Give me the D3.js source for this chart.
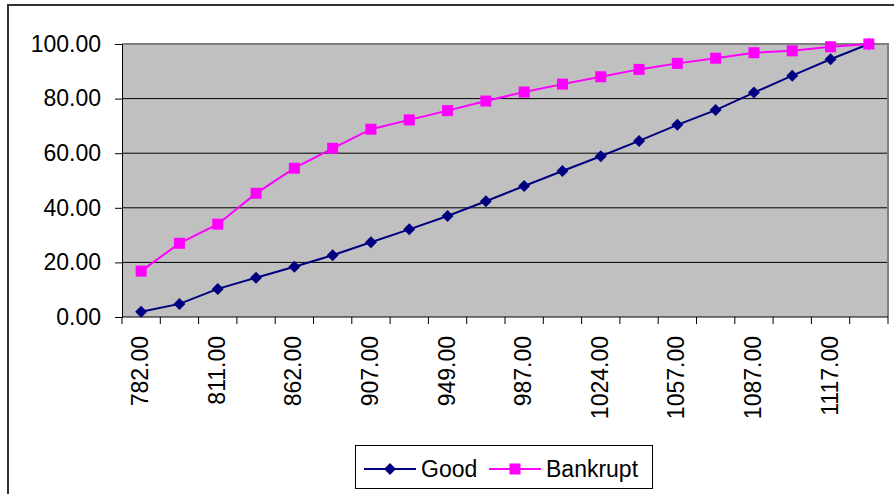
<!DOCTYPE html>
<html>
<head>
<meta charset="utf-8">
<script src="https://cdn.jsdelivr.net/npm/d3@7"></script>
<style>
  html, body { margin: 0; padding: 0; background: #fff; }
  svg { display: block; }
  text { font-family: "Liberation Sans", Arial, sans-serif; fill: #000; }
</style>
</head>
<body>
<svg id="chart" width="894" height="494"></svg>
<script>
// Score bands (only every other band carries a printed label on the axis)
const bandLabels = ["782.00", "", "811.00", "", "862.00", "", "907.00", "", "949.00", "",
                    "987.00", "", "1024.00", "", "1057.00", "", "1087.00", "", "1117.00", ""];

// Cumulative percentage per band
const goodValues = [1.9, 4.8, 10.3, 14.4, 18.4, 22.6, 27.4, 32.1, 37.0, 42.4,
                    48.0, 53.5, 58.9, 64.5, 70.4, 75.8, 82.2, 88.4, 94.4, 100.0];
const bankruptValues = [16.8, 27.0, 34.0, 45.3, 54.5, 61.8, 68.8, 72.2, 75.6, 79.1,
                        82.4, 85.3, 88.0, 90.7, 92.9, 94.8, 96.8, 97.5, 99.0, 100.0];

const yTicks = [0, 20, 40, 60, 80, 100];

const svg = d3.select("#chart");
const plot = { left: 122, top: 44, right: 888, bottom: 317 };
const fontSize = 23;

// Chart area frame
svg.append("rect")
  .attr("x", 8).attr("y", 5)
  .attr("width", 900).attr("height", 500)
  .attr("fill", "#fff")
  .attr("stroke", "#333").attr("stroke-width", 2);

const x = d3.scaleBand()
  .domain(d3.range(bandLabels.length))
  .range([plot.left, plot.right])
  .paddingInner(0).paddingOuter(0);

const y = d3.scaleLinear().domain([0, 100]).range([plot.bottom, plot.top]);

// Plot background
svg.append("rect")
  .attr("x", plot.left).attr("y", plot.top)
  .attr("width", plot.right - plot.left).attr("height", plot.bottom - plot.top)
  .attr("fill", "#c0c0c0");

// Horizontal gridlines
svg.append("g")
  .selectAll("line")
  .data(yTicks.filter(d => d > 0))
  .join("line")
  .attr("x1", plot.left).attr("x2", plot.right)
  .attr("y1", d => y(d)).attr("y2", d => y(d))
  .attr("stroke", "#000").attr("stroke-width", 1);

// Plot border (right and top in grey)
svg.append("path")
  .attr("d", `M${plot.left},${plot.top}H${plot.right}V${plot.bottom}`)
  .attr("fill", "none").attr("stroke", "#808080").attr("stroke-width", 2);

// Y axis
const yAxis = svg.append("g")
  .attr("transform", `translate(${plot.left},0)`)
  .call(d3.axisLeft(y).tickValues(yTicks).tickFormat(d3.format(".2f")).tickSizeOuter(0).tickSize(7).tickPadding(14));
yAxis.select(".domain").attr("stroke", "#000").attr("stroke-width", 1);
yAxis.selectAll(".tick line").attr("stroke", "#000");
yAxis.selectAll("text").attr("font-size", fontSize).attr("font-family", "Liberation Sans, Arial, sans-serif").attr("fill", "#000");

// X axis: tick marks at band boundaries
const boundaries = d3.range(bandLabels.length + 1).map(i => i < bandLabels.length ? x(i) : plot.right);
const xAxisG = svg.append("g");
xAxisG.append("line")
  .attr("x1", plot.left).attr("x2", plot.right)
  .attr("y1", plot.bottom).attr("y2", plot.bottom)
  .attr("stroke", "#000").attr("stroke-width", 1);
xAxisG.selectAll("line.tick")
  .data(boundaries)
  .join("line")
  .attr("class", "tick")
  .attr("x1", d => d).attr("x2", d => d)
  .attr("y1", plot.bottom).attr("y2", plot.bottom + 7)
  .attr("stroke", "#000").attr("stroke-width", 1);

// Rotated category labels
xAxisG.selectAll("text")
  .data(bandLabels.map((label, i) => ({ label, i })).filter(d => d.label))
  .join("text")
  .attr("transform", d => `translate(${x(d.i) + x.bandwidth() / 2 + 7},${plot.bottom + 19}) rotate(-90)`)
  .attr("text-anchor", "end")
  .attr("font-size", fontSize)
  .text(d => d.label);

// Series
const cx = i => x(i) + x.bandwidth() / 2;
const line = d3.line().x((d, i) => cx(i)).y(d => y(d));

// Diamond = square turned 45 degrees
const series = [
  { name: "Good", values: goodValues, color: "#000080", symbol: d3.symbolSquare, size: 72, rotate: 45 },
  { name: "Bankrupt", values: bankruptValues, color: "#ff00ff", symbol: d3.symbolSquare, size: 121, rotate: 0 }
];

series.forEach(s => {
  const g = svg.append("g");
  g.append("path")
    .datum(s.values)
    .attr("d", line)
    .attr("fill", "none")
    .attr("stroke", s.color)
    .attr("stroke-width", 2);
  g.selectAll("path.marker")
    .data(s.values)
    .join("path")
    .attr("class", "marker")
    .attr("transform", (d, i) => `translate(${cx(i)},${y(d)}) rotate(${s.rotate})`)
    .attr("d", d3.symbol().type(s.symbol).size(s.size))
    .attr("fill", s.color);
});

// Legend
const legend = svg.append("g");
legend.append("rect")
  .attr("x", 355.5).attr("y", 445.5)
  .attr("width", 297).attr("height", 43)
  .attr("fill", "#fff").attr("stroke", "#000").attr("stroke-width", 1);

const legendItems = [
  { s: series[0], x0: 364, x1: 416, tx: 421 },
  { s: series[1], x0: 489, x1: 541, tx: 546 }
];
legendItems.forEach(item => {
  const ly = 469;
  legend.append("line")
    .attr("x1", item.x0).attr("x2", item.x1)
    .attr("y1", ly).attr("y2", ly)
    .attr("stroke", item.s.color).attr("stroke-width", 2);
  legend.append("path")
    .attr("transform", `translate(${(item.x0 + item.x1) / 2},${ly}) rotate(${item.s.rotate})`)
    .attr("d", d3.symbol().type(item.s.symbol).size(item.s.size))
    .attr("fill", item.s.color);
  legend.append("text")
    .attr("x", item.tx).attr("y", ly + 8)
    .attr("font-size", fontSize)
    .text(item.s.name);
});
</script>
</body>
</html>
